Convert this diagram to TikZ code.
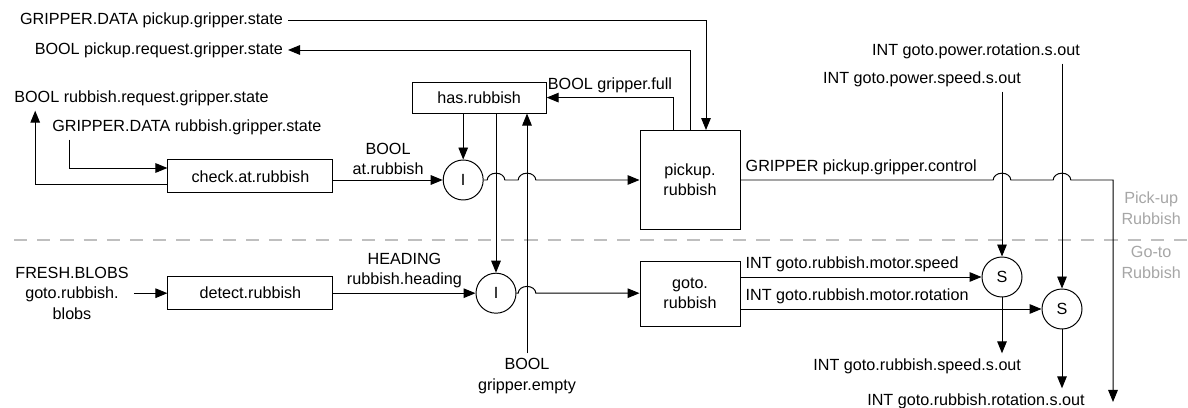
\documentclass[tikz,border=0pt]{standalone}
\usepackage{fontspec}
\setmainfont{Liberation Sans}
\usepackage[x11names]{xcolor}
\usetikzlibrary{arrows.meta, calc}

\begin{document}
\begin{tikzpicture}[
    font=\fontsize{11.5}{14.5}\selectfont,
    >={Triangle[length=0.3cm, width=0.24cm]},
    line width=0.7pt,
    block/.style={draw, rectangle, inner sep=0pt, align=center},
    junction/.style={draw, circle, minimum size=1cm, inner sep=0pt},
    lbl/.style={align=center},
    zone/.style={align=center, text=gray!70}
]
    \def\hr{0.22}
    \def\hh{0.17}
    \def\zonedash{gray!50}
    \useasboundingbox (0,0) rectangle (29.7,-10.2);

    \node[block, minimum width=4.125cm, minimum height=0.825cm] (check) at (6.26,-4.41) {check.at.rubbish};
    \node[block, minimum width=3.35cm, minimum height=0.775cm] (hasr) at (11.98,-2.44) {has.rubbish};
    \node[junction] (I1) at (11.58,-4.5) {I};
    \node[block, minimum width=2.5cm, minimum height=2.475cm] (pickup) at (17.25,-4.5) {pickup.\\rubbish};

    \node[block, minimum width=4.125cm, minimum height=0.825cm] (detect) at (6.26,-7.33) {detect.rubbish};
    \node[junction] (I2) at (12.4,-7.33) {I};
    \node[block, minimum width=2.5cm, minimum height=1.625cm] (goto) at (17.25,-7.34) {goto.\\rubbish};
    \node[junction] (S1) at (25.05,-6.925) {S};
    \node[junction] (S2) at (26.55,-7.725) {S};

    \node[anchor=east] (gds) at (7.2,-0.5) {GRIPPER.DATA pickup.gripper.state};
    \node[anchor=east] (bprs) at (7.2,-1.25) {BOOL pickup.request.gripper.state};
    \node[anchor=west] (brgs) at (0.23,-2.45) {BOOL rubbish.request.gripper.state};
    \node[anchor=west] (rgds) at (1.18,-3.175) {GRIPPER.DATA rubbish.gripper.state};
    \node[lbl] (fresh) at (1.8,-7.33) {FRESH.BLOBS\\goto.rubbish.\\blobs};
    \node[lbl] (bge) at (13.175,-9.4) {BOOL\\gripper.empty};
    \node (gprs) at (24.4,-1.275) {INT goto.power.rotation.s.out};
    \node (gpss) at (23.05,-1.975) {INT goto.power.speed.s.out};
    \node (grss) at (22.93,-9.15) {INT goto.rubbish.speed.s.out};
    \node (grrs) at (24.4,-10.025) {INT goto.rubbish.rotation.s.out};
    \coordinate (gcend) at (27.825,-10.05);

    \node[zone] (pickzone) at (28.78,-5.21) {Pick-up\\Rubbish};
    \node[zone] (gozone) at (28.78,-6.56) {Go-to\\Rubbish};
    \draw[\zonedash, line width=1pt, dash pattern=on 0.33cm off 0.25cm] (0.35,-6) -- (29.7,-6);

    \draw[->] (gds.east) -| ([xshift=0.4cm]pickup.north);
    \draw[->] (pickup.north) |- (bprs.east);
    \draw[->] ([xshift=-0.42cm]pickup.north) |- (hasr.east) node[pos=0.75, above] (gfull) {BOOL gripper.full};
    \draw[->] ([yshift=-0.19cm]check.west) -| ([xshift=0.65cm]brgs.south west);
    \draw[->] ([xshift=0.55cm]rgds.south west) |- ([yshift=0.21cm]check.west);
    \draw[->] (check.east |- I1) -- (I1.west) node[midway, above, lbl] (atr) {BOOL\\at.rubbish};
    \draw[->] (I1.north |- hasr.south) -- (I1.north);
    \draw[->] (I2.north |- hasr.south) -- (I2.north);
    \draw[->] (bge.north) -- (bge.north |- hasr.south);
    \draw[->] (I1.east) -- ($(I1 -| I2)+(-\hr,0)$) arc[start angle=180, end angle=0, x radius=\hr, y radius=\hh]
        -- ($(I1 -| bge)+(-\hr,0)$) arc[start angle=180, end angle=0, x radius=\hr, y radius=\hh]
        -- (pickup.west |- I1);
    \draw[->] (pickup.east) -- ($(pickup.east -| S1)+(-\hr,0)$) node[pos=0, above right] (gctl) {GRIPPER pickup.gripper.control}
        arc[start angle=180, end angle=0, x radius=\hr, y radius=\hh]
        -- ($(pickup.east -| S2)+(-\hr,0)$) arc[start angle=180, end angle=0, x radius=\hr, y radius=\hh]
        -- (pickup.east -| gcend) -- (gcend);

    \draw[->] (fresh.east) -- (detect.west);
    \draw[->] (detect.east) -- (I2.west) node[midway, above, lbl] (rhead) {HEADING\\rubbish.heading};
    \draw[->] (I2.east) -- ($(I2 -| bge)+(-\hr,0)$) arc[start angle=180, end angle=0, x radius=\hr, y radius=\hh]
        -- (goto.west |- I2);
    \draw[->] (goto.east |- S1) -- (S1.west) node[pos=0, above right] (mspeed) {INT goto.rubbish.motor.speed};
    \draw[->] (goto.east |- S2) -- (S2.west) node[pos=0, above right] (mrot) {INT goto.rubbish.motor.rotation};
    \draw[->] (S1 |- gpss.south) -- (S1.north);
    \draw[->] (S2 |- gprs.south) -- (S2.north);
    \draw[->] (S1.south) -- (S1 |- grss.north);
    \draw[->] (S2.south) -- (S2 |- grrs.north);
\end{tikzpicture}
\end{document}
